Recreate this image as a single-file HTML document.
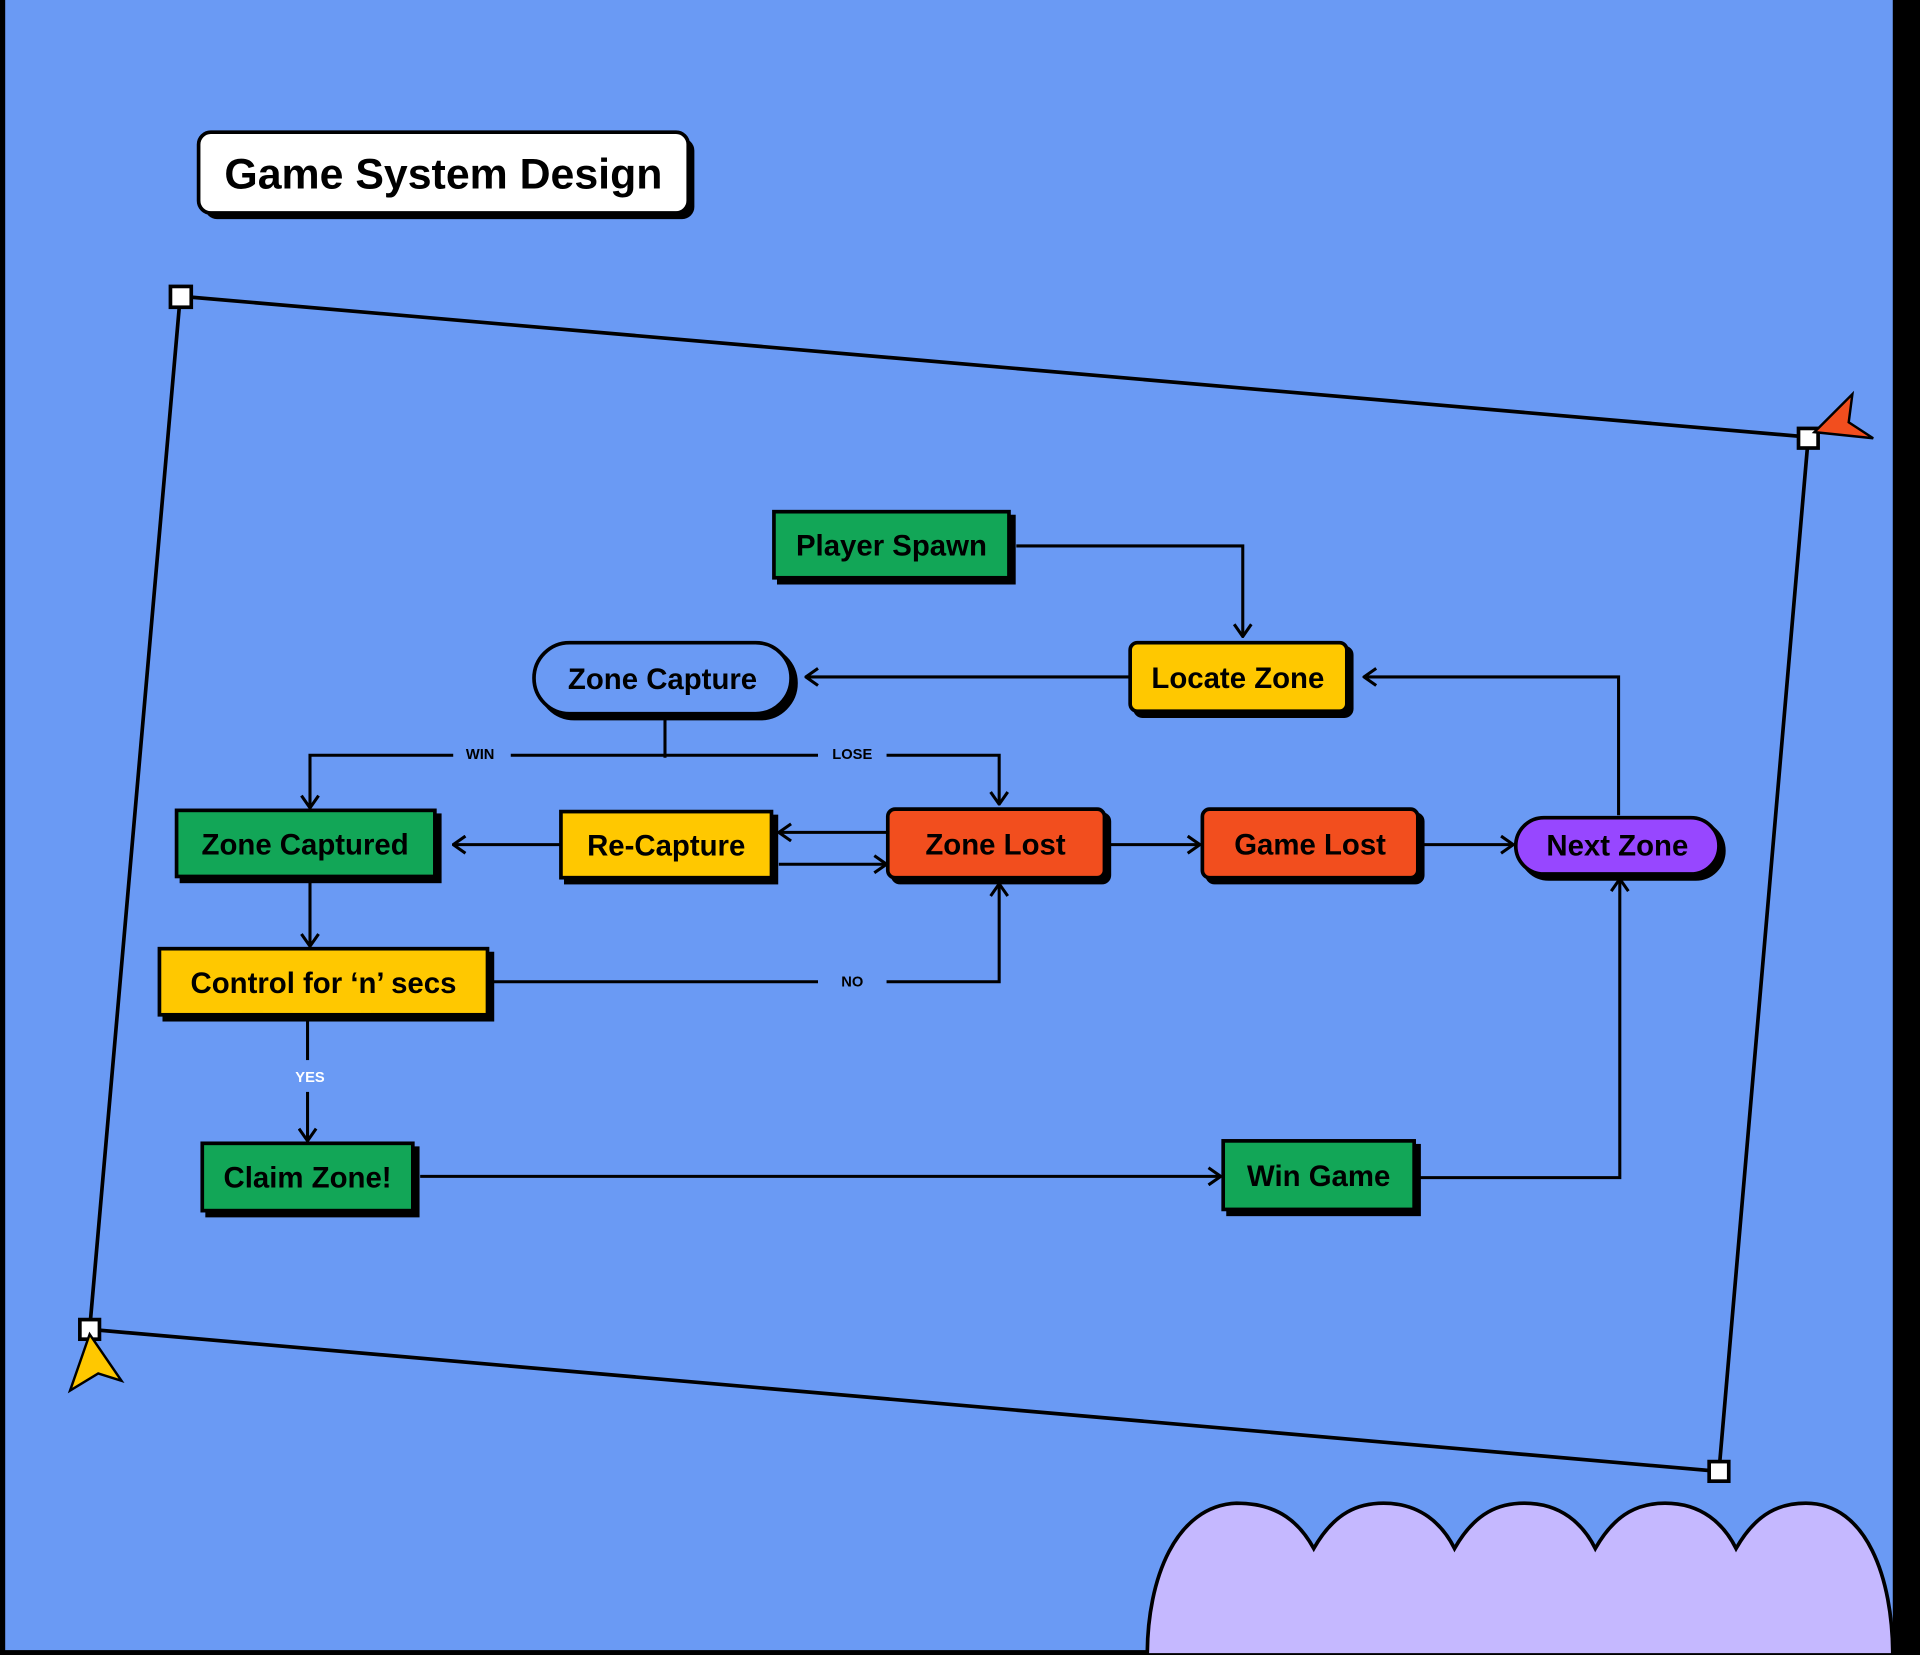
<!DOCTYPE html>
<html><head><meta charset="utf-8"><style>
html,body{margin:0;padding:0;background:#000;}
svg{display:block;}
text{font-family:"Liberation Sans",sans-serif;font-weight:bold;}
</style></head><body>
<svg width="1920" height="1655" viewBox="0 0 1568 1352" xmlns="http://www.w3.org/2000/svg">
<defs>
<marker id="a" viewBox="0 0 12 16" refX="11" refY="8" markerWidth="12" markerHeight="16" markerUnits="userSpaceOnUse" orient="auto">
<path d="M1 1 L11 8 L1 15" fill="none" stroke="#000" stroke-width="2.5"/>
</marker>
</defs>
<rect x="0" y="0" width="1568" height="1352" fill="#000"/>
<rect x="4" y="0" width="1542" height="1348" fill="#6A9AF4"/>
<!-- cloud -->
<path d="M937 1352 C937 1290 960 1230 1010 1228 C1045 1228 1062 1245 1073 1265 C1090 1235 1110 1228 1130 1228 C1160 1228 1178 1245 1188 1265 C1205 1235 1225 1228 1245 1228 C1275 1228 1293 1245 1303 1265 C1320 1235 1340 1228 1360 1228 C1390 1228 1408 1245 1418 1265 C1435 1235 1455 1228 1475 1228 C1525 1228 1546 1290 1546 1352 Z" fill="#C5B8FF" stroke="#000" stroke-width="3"/>
<!-- title -->
<rect x="167" y="113" width="400" height="66" rx="10" fill="#000"/>
<rect x="162" y="108" width="400" height="66" rx="10" fill="#fff" stroke="#000" stroke-width="3"/>
<text x="362" y="154" font-size="35" text-anchor="middle">Game System Design</text>
<!-- frame -->
<polygon points="147,242 1477,357 1404,1202 73,1086" fill="none" stroke="#000" stroke-width="3"/>
<g fill="#fff" stroke="#000" stroke-width="3">
<rect x="139" y="234" width="17" height="17"/>
<rect x="1469" y="350" width="16" height="16"/>
<rect x="1396" y="1194" width="16" height="16"/>
<rect x="65" y="1078" width="16" height="16"/>
</g>
<polygon points="1482,353 1513,322 1510,345 1530,358" fill="#F24E1E" stroke="#000" stroke-width="2"/>
<polygon points="73,1090 99,1128 80,1122 57,1136" fill="#FFC800" stroke="#000" stroke-width="2"/>
<!-- connectors -->
<g fill="none" stroke="#000" stroke-width="2.5">
<path d="M830 446 H1015 V520" marker-end="url(#a)"/>
<path d="M922 553 H658" marker-end="url(#a)"/>
<path d="M543 585 V619"/>
<path d="M370 617 H253 V660" marker-end="url(#a)"/>
<path d="M417 617 H668"/>
<path d="M724 617 H816 V657" marker-end="url(#a)"/>
<path d="M457 690 H370" marker-end="url(#a)"/>
<path d="M724 680 H636" marker-end="url(#a)"/>
<path d="M636 706 H724" marker-end="url(#a)"/>
<path d="M906 690 H980" marker-end="url(#a)"/>
<path d="M1162 690 H1236" marker-end="url(#a)"/>
<path d="M1322 666 V553 H1114" marker-end="url(#a)"/>
<path d="M253 718 V773" marker-end="url(#a)"/>
<path d="M402 802 H668"/>
<path d="M724 802 H816 V722" marker-end="url(#a)"/>
<path d="M251 832 V866"/>
<path d="M251 892 V932" marker-end="url(#a)"/>
<path d="M343 961 H997" marker-end="url(#a)"/>
<path d="M1160 962 H1323 V718" marker-end="url(#a)"/>
</g>
<g font-size="12" text-anchor="middle">
<text x="392" y="620">WIN</text>
<text x="696" y="620">LOSE</text>
<text x="696" y="806">NO</text>
<text x="253" y="884" fill="#fff">YES</text>
</g>
<!-- nodes -->
<g stroke="#000" stroke-width="3">
<rect x="636" y="422" width="192" height="54" fill="#000"/>
<rect x="632" y="418" width="192" height="54" fill="#12A657"/>
<rect x="927" y="529" width="177" height="56" rx="6" fill="#000"/>
<rect x="923" y="525" width="177" height="56" rx="6" fill="#FFC800"/>
<rect x="440" y="529" width="210" height="58" rx="29" fill="#000"/>
<rect x="436" y="525" width="210" height="58" rx="29" fill="#6A9AF4"/>
<rect x="148" y="666" width="211" height="54" fill="#000"/>
<rect x="144" y="662" width="211" height="54" fill="#12A657"/>
<rect x="462" y="667" width="172" height="54" fill="#000"/>
<rect x="458" y="663" width="172" height="54" fill="#FFC800"/>
<rect x="729" y="665" width="177" height="56" rx="6" fill="#000"/>
<rect x="725" y="661" width="177" height="56" rx="6" fill="#F24E1E"/>
<rect x="986" y="665" width="176" height="56" rx="6" fill="#000"/>
<rect x="982" y="661" width="176" height="56" rx="6" fill="#F24E1E"/>
<rect x="1242" y="672" width="166" height="46" rx="23" fill="#000"/>
<rect x="1238" y="668" width="166" height="46" rx="23" fill="#9747FF"/>
<rect x="134" y="779" width="268" height="54" fill="#000"/>
<rect x="130" y="775" width="268" height="54" fill="#FFC800"/>
<rect x="169" y="938" width="172" height="55" fill="#000"/>
<rect x="165" y="934" width="172" height="55" fill="#12A657"/>
<rect x="1003" y="936" width="156" height="56" fill="#000"/>
<rect x="999" y="932" width="156" height="56" fill="#12A657"/>
</g>
<g font-size="24" text-anchor="middle">
<text x="728" y="454">Player Spawn</text>
<text x="1011" y="562">Locate Zone</text>
<text x="541" y="563">Zone Capture</text>
<text x="249" y="698">Zone Captured</text>
<text x="544" y="699">Re-Capture</text>
<text x="813" y="698">Zone Lost</text>
<text x="1070" y="698">Game Lost</text>
<text x="1321" y="699">Next Zone</text>
<text x="264" y="811">Control for ‘n’ secs</text>
<text x="251" y="970">Claim Zone!</text>
<text x="1077" y="969">Win Game</text>
</g>
</svg>
</body></html>
